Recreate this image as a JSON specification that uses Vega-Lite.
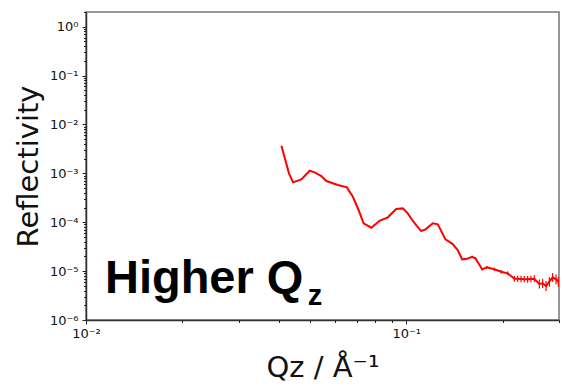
{
  "$schema": "https://vega.github.io/schema/vega-lite/v6.json",
  "width": 473,
  "height": 308,
  "autosize": "none",
  "padding": {"left": 86, "top": 12, "right": 5, "bottom": 70},
  "background": "white",
  "config": {
    "view": {"stroke": "#777", "strokeWidth": 1.5},
    "axis": {
      "grid": false,
      "domainColor": "#333",
      "domainWidth": 1.5,
      "tickColor": "#222",
      "labelFont": "DejaVu Sans",
      "labelFontSize": 13,
      "labelColor": "#111",
      "titleFont": "DejaVu Sans",
      "titleFontWeight": "normal",
      "titleColor": "#111",
      "titleFontSize": 29,
      "labelFlush": false,
      "labelOverlap": false
    }
  },
  "datasets": {
    "curve": [
      {"q": 0.04076, "R": 3.66e-3},
      {"q": 0.04304, "R": 1.0e-3},
      {"q": 0.0443, "R": 6.55e-4},
      {"q": 0.04706, "R": 7.54e-4},
      {"q": 0.04995, "R": 1.13e-3},
      {"q": 0.05177, "R": 1.05e-3},
      {"q": 0.05433, "R": 8.81e-4},
      {"q": 0.0563, "R": 6.96e-4},
      {"q": 0.06118, "R": 5.76e-4},
      {"q": 0.06527, "R": 5.17e-4},
      {"q": 0.06815, "R": 3.32e-4},
      {"q": 0.071, "R": 1.78e-4},
      {"q": 0.0736, "R": 9.5e-5},
      {"q": 0.07779, "R": 7.72e-5},
      {"q": 0.08256, "R": 1.07e-4},
      {"q": 0.08761, "R": 1.26e-4},
      {"q": 0.09307, "R": 1.86e-4},
      {"q": 0.09759, "R": 1.92e-4},
      {"q": 0.1011, "R": 1.52e-4},
      {"q": 0.1049, "R": 1.06e-4},
      {"q": 0.1074, "R": 8.77e-5},
      {"q": 0.1114, "R": 6.61e-5},
      {"q": 0.1149, "R": 7.16e-5},
      {"q": 0.1211, "R": 9.5e-5},
      {"q": 0.1255, "R": 9.06e-5},
      {"q": 0.1326, "R": 4.47e-5},
      {"q": 0.1397, "R": 3.58e-5},
      {"q": 0.1448, "R": 2.7e-5},
      {"q": 0.1495, "R": 1.74e-5},
      {"q": 0.1539, "R": 1.76e-5, "lo": 1.7e-5, "hi": 1.82e-5},
      {"q": 0.1606, "R": 1.97e-5, "lo": 1.88e-5, "hi": 2.06e-5},
      {"q": 0.1645, "R": 1.83e-5, "lo": 1.74e-5, "hi": 1.92e-5},
      {"q": 0.1726, "R": 1.09e-5, "lo": 1.03e-5, "hi": 1.15e-5},
      {"q": 0.1784, "R": 1.2e-5, "lo": 1.12e-5, "hi": 1.28e-5},
      {"q": 0.1885, "R": 1.09e-5, "lo": 1.01e-5, "hi": 1.17e-5},
      {"q": 0.1978, "R": 9.72e-6, "lo": 8.9e-6, "hi": 1.06e-5},
      {"q": 0.2074, "R": 9.02e-6, "lo": 8.2e-6, "hi": 9.9e-6},
      {"q": 0.2177, "R": 6.99e-6, "lo": 6.1e-6, "hi": 8.0e-6},
      {"q": 0.2228, "R": 6.95e-6, "lo": 6.0e-6, "hi": 8.0e-6},
      {"q": 0.2284, "R": 6.89e-6, "lo": 5.9e-6, "hi": 8.0e-6},
      {"q": 0.2338, "R": 6.85e-6, "lo": 5.9e-6, "hi": 7.9e-6},
      {"q": 0.2394, "R": 6.8e-6, "lo": 5.8e-6, "hi": 7.9e-6},
      {"q": 0.2452, "R": 6.9e-6, "lo": 5.9e-6, "hi": 8.0e-6},
      {"q": 0.2512, "R": 6.99e-6, "lo": 5.9e-6, "hi": 8.2e-6},
      {"q": 0.2605, "R": 5.45e-6, "lo": 4.4e-6, "hi": 6.7e-6},
      {"q": 0.2667, "R": 5.63e-6, "lo": 4.5e-6, "hi": 7.0e-6},
      {"q": 0.2733, "R": 4.96e-6, "lo": 3.9e-6, "hi": 6.3e-6},
      {"q": 0.2799, "R": 6.07e-6, "lo": 4.8e-6, "hi": 7.6e-6},
      {"q": 0.2866, "R": 7.47e-6, "lo": 6.0e-6, "hi": 9.2e-6},
      {"q": 0.2937, "R": 6.8e-6, "lo": 5.4e-6, "hi": 8.5e-6},
      {"q": 0.2985, "R": 6.07e-6, "lo": 4.8e-6, "hi": 7.6e-6}
    ],
    "notes": [
      {"q": 0.01146, "R": 3.52e-6, "t": "Higher Q"},
      {"q": 0.0493, "R": 2.03e-6, "t": "z"}
    ]
  },
  "layer": [
    {
      "data": {"name": "curve"},
      "mark": {"type": "line", "color": "#ff0000", "strokeWidth": 2, "clip": true},
      "encoding": {
        "x": {
          "field": "q", "type": "quantitative",
          "scale": {"type": "log", "domain": [0.01, 0.3], "nice": false},
          "axis": {
            "orient": "bottom",
            "values": [0.01, 0.1],
            "tickSize": 4,
            "labelPadding": 3,
            "labelBaseline": "top",
            "labelExpr": "'10' + ['⁻⁶','⁻⁵','⁻⁴','⁻³','⁻²','⁻¹','⁰'][round(log(datum.value)/LN10)+6]",
            "title": "Qz / Å⁻¹",
            "titlePadding": 13
          }
        },
        "y": {
          "field": "R", "type": "quantitative",
          "scale": {"type": "log", "domain": [1e-6, 2], "nice": false},
          "axis": {
            "orient": "left",
            "values": [1e-6, 1e-5, 1e-4, 1e-3, 1e-2, 1e-1, 1],
            "tickSize": 4,
            "labelPadding": 4,
            "labelExpr": "'10' + ['⁻⁶','⁻⁵','⁻⁴','⁻³','⁻²','⁻¹','⁰'][round(log(datum.value)/LN10)+6]",
            "title": "Reflectivity",
            "titlePadding": 6
          }
        }
      }
    },
    {
      "data": {"name": "curve"},
      "transform": [{"filter": "isValid(datum.lo)"}],
      "mark": {"type": "rule", "color": "#ff0000", "strokeWidth": 1.2, "clip": true},
      "encoding": {
        "x": {
          "field": "q", "type": "quantitative",
          "axis": {
            "orient": "bottom",
            "values": [0.02, 0.03, 0.04, 0.05, 0.06, 0.07, 0.08, 0.09, 0.2, 0.3],
            "tickSize": 2.5,
            "labels": false,
            "domain": false,
            "title": null
          }
        },
        "y": {
          "field": "lo", "type": "quantitative",
          "axis": {
            "orient": "left",
            "values": [2e-6, 3e-6, 4e-6, 5e-6, 6e-6, 7e-6, 8e-6, 9e-6, 2e-5, 3e-5, 4e-5, 5e-5, 6e-5, 7e-5, 8e-5, 9e-5, 2e-4, 3e-4, 4e-4, 5e-4, 6e-4, 7e-4, 8e-4, 9e-4, 2e-3, 3e-3, 4e-3, 5e-3, 6e-3, 7e-3, 8e-3, 9e-3, 2e-2, 3e-2, 4e-2, 5e-2, 6e-2, 7e-2, 8e-2, 9e-2, 0.2, 0.3, 0.4, 0.5, 0.6, 0.7, 0.8, 0.9, 2],
            "tickSize": 2.5,
            "labels": false,
            "domain": false,
            "title": null
          }
        },
        "y2": {"field": "hi"}
      }
    },
    {
      "data": {"name": "notes"},
      "transform": [{"filter": "datum.t == 'Higher Q'"}],
      "mark": {"type": "text", "font": "Liberation Sans", "fontWeight": "bold", "fontSize": 47, "align": "left", "baseline": "alphabetic", "color": "#000"},
      "encoding": {
        "x": {"field": "q", "type": "quantitative", "axis": null},
        "y": {"field": "R", "type": "quantitative", "axis": null},
        "text": {"field": "t"}
      }
    },
    {
      "data": {"name": "notes"},
      "transform": [{"filter": "datum.t == 'z'"}],
      "mark": {"type": "text", "font": "Liberation Sans", "fontWeight": "bold", "fontSize": 29, "align": "left", "baseline": "alphabetic", "color": "#000"},
      "encoding": {
        "x": {"field": "q", "type": "quantitative", "axis": null},
        "y": {"field": "R", "type": "quantitative", "axis": null},
        "text": {"field": "t"}
      }
    }
  ],
  "resolve": {"axis": {"x": "independent", "y": "independent"}}
}
